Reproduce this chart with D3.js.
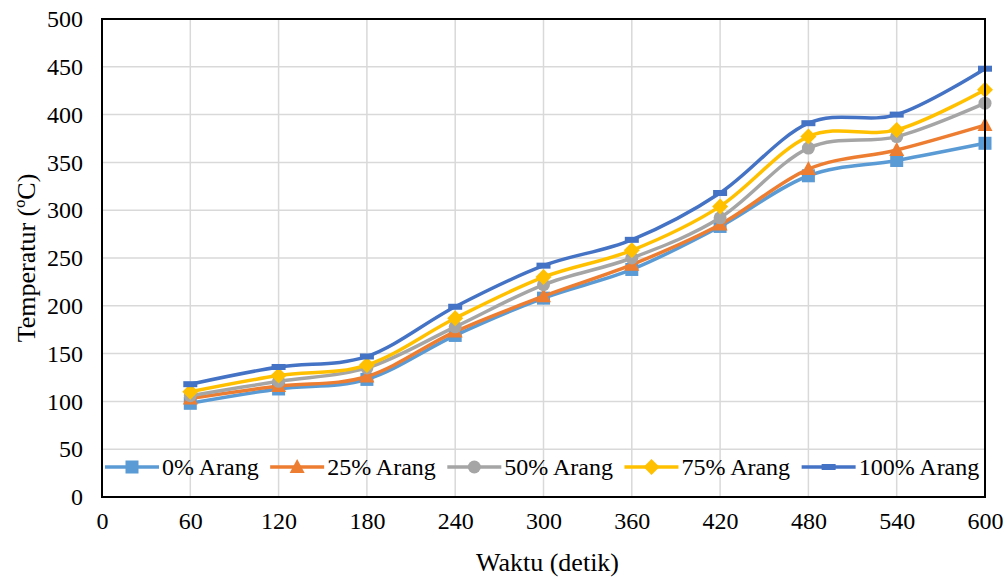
<!DOCTYPE html>
<html>
<head>
<meta charset="utf-8">
<script src="https://cdn.jsdelivr.net/npm/d3@7"></script>
</head>
<body style="margin:0">
<svg id="chart" width="1008" height="579"></svg>
<script>
// Time axis (seconds) and furnace temperature for each charcoal mix
const waktu = [60, 120, 180, 240, 300, 360, 420, 480, 540, 600];
const arang0   = [98, 113, 123, 169, 208, 238, 283, 336, 352, 370];
const arang25  = [103, 116, 126, 173, 210, 243, 285, 343, 363, 389];
const arang50  = [106, 121, 135, 178, 222, 250, 292, 365, 377, 412];
const arang75  = [110, 127, 138, 187, 230, 258, 304, 377, 384, 426];
const arang100 = [118, 136, 147, 199, 242, 269, 318, 391, 400, 448];

const seriesNames = ["0% Arang", "25% Arang", "50% Arang", "75% Arang", "100% Arang"];
const seriesColors = ["#5B9BD5", "#ED7D31", "#A5A5A5", "#FFC000", "#4472C4"];
const seriesMarkers = ["square", "triangle", "circle", "diamond", "dash"];
const xTicks = [0, 60, 120, 180, 240, 300, 360, 420, 480, 540, 600];
const yTicks = [0, 50, 100, 150, 200, 250, 300, 350, 400, 450, 500];

const seriesValues = [arang0, arang25, arang50, arang75, arang100];

const FONT = "Liberation Serif";

const svg = d3.select("#chart");
const margin = { left: 102, right: 23, top: 19, bottom: 82 };
const W = 1008, H = 579;
const x = d3.scaleLinear().domain([0, 600]).range([margin.left, W - margin.right]);
const y = d3.scaleLinear().domain([0, 500]).range([H - margin.bottom, margin.top]);

// gridlines
const grid = svg.append("g");
grid.selectAll("line.h").data(yTicks.slice(1)).join("line")
  .attr("x1", x(0)).attr("x2", x(600))
  .attr("y1", d => y(d)).attr("y2", d => y(d))
  .attr("stroke", "#d9d9d9").attr("stroke-width", 1.5);
grid.selectAll("line.v").data(xTicks.slice(1)).join("line")
  .attr("y1", y(0)).attr("y2", y(500))
  .attr("x1", d => x(d)).attr("x2", d => x(d))
  .attr("stroke", "#d9d9d9").attr("stroke-width", 1.5);

// axes (labels only; the frame is drawn separately)
const yAxis = svg.append("g").attr("transform", `translate(${x(0)},0)`)
  .call(d3.axisLeft(y).tickValues(yTicks).tickSize(0).tickPadding(19));
const xAxis = svg.append("g").attr("transform", `translate(0,${y(0)})`)
  .call(d3.axisBottom(x).tickValues(xTicks).tickSize(0).tickPadding(15));
[yAxis, xAxis].forEach(a => {
  a.attr("font-family", FONT).attr("font-size", 24);
  a.select(".domain").remove();
  a.selectAll("text").attr("fill", "#000").attr("font-family", FONT).attr("font-size", 24);
});

// series lines and markers
const line = d3.line()
  .x((d, i) => x(waktu[i]))
  .y(d => y(d))
  .curve(d3.curveCatmullRom.alpha(0));

function drawMarker(g, type, color, cx, cy) {
  if (type === "square") {
    g.append("rect").attr("x", cx - 6.5).attr("y", cy - 6.5).attr("width", 13).attr("height", 13).attr("fill", color);
  } else if (type === "triangle") {
    g.append("path").attr("d", `M${cx},${cy - 8}L${cx + 7.5},${cy + 6}L${cx - 7.5},${cy + 6}Z`).attr("fill", color);
  } else if (type === "circle") {
    g.append("circle").attr("cx", cx).attr("cy", cy).attr("r", 6.5).attr("fill", color);
  } else if (type === "diamond") {
    g.append("path").attr("d", `M${cx},${cy - 8}L${cx + 8},${cy}L${cx},${cy + 8}L${cx - 8},${cy}Z`).attr("fill", color);
  } else if (type === "dash") {
    g.append("rect").attr("x", cx - 7).attr("y", cy - 3).attr("width", 14).attr("height", 6).attr("fill", color);
  }
}

seriesValues.forEach((vals, s) => {
  const g = svg.append("g");
  g.append("path").attr("d", line(vals))
    .attr("fill", "none").attr("stroke", seriesColors[s]).attr("stroke-width", 3.5)
    .attr("stroke-linejoin", "round");
  vals.forEach((v, i) => drawMarker(g, seriesMarkers[s], seriesColors[s], x(waktu[i]), y(v)));
});

// plot frame
svg.append("rect").attr("x", x(0)).attr("y", y(500))
  .attr("width", x(600) - x(0)).attr("height", y(0) - y(500))
  .attr("fill", "none").attr("stroke", "#000").attr("stroke-width", 2);

// legend, laid out left to right inside the plot area
const legend = svg.append("g");
let lx = 105;
const ly = 467;
seriesNames.forEach((name, s) => {
  const g = legend.append("g");
  g.append("line").attr("x1", lx).attr("x2", lx + 54).attr("y1", ly).attr("y2", ly)
    .attr("stroke", seriesColors[s]).attr("stroke-width", 3.5);
  drawMarker(g, seriesMarkers[s], seriesColors[s], lx + 27, ly);
  const t = g.append("text").attr("x", lx + 57).attr("y", ly + 8)
    .attr("font-family", FONT).attr("font-size", 24).text(name);
  lx += 57 + t.node().getComputedTextLength() + 11.5;
});

// axis titles
svg.append("text").attr("x", x(300) + 4).attr("y", 571).attr("text-anchor", "middle")
  .attr("font-family", FONT).attr("font-size", 26).text("Waktu (detik)");
svg.append("text").attr("transform", `translate(35,${(y(0) + y(500)) / 2}) rotate(-90)`)
  .attr("text-anchor", "middle")
  .attr("font-family", FONT).attr("font-size", 26).text("Temperatur (ºC)");
</script>
</body>
</html>
